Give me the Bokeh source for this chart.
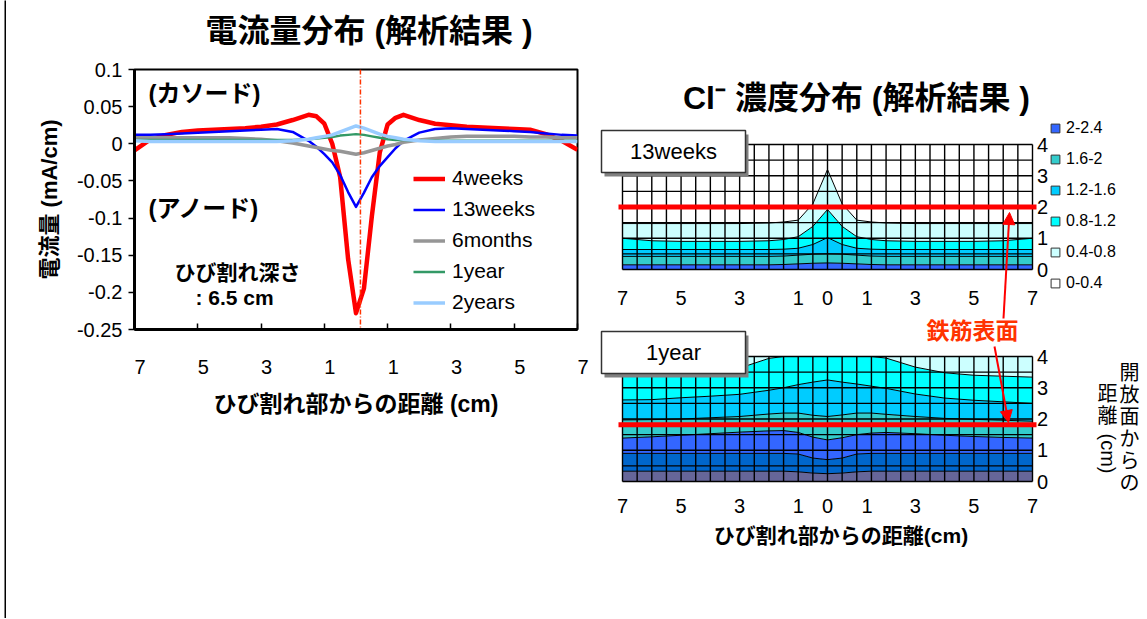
import numpy as np
from bokeh.plotting import figure
from bokeh.models import (Range1d, FixedTicker, CustomJSTickFormatter, Label, Legend,
                          LegendItem, Span, Arrow, NormalHead)
from bokeh.embed import file_html
from bokeh.resources import INLINE
from bokeh.core.properties import value

JP = "Liberation Sans, Noto Sans CJK JP"
LAT = "Liberation Sans"

# ---------------- data: current distribution (left chart) ----------------
distance_cm = [-7, -6.5, -6, -5.5, -5, -4.5, -4, -3.5, -3, -2.5, -2, -1.5,
               -1.25, -1, -0.75, -0.5, -0.25, 0, 0.25, 0.5, 0.75, 1, 1.25, 1.5,
               2, 2.5, 3, 3.5, 4, 4.5, 5, 5.5, 6, 6.5, 7]
current_4weeks = [-0.009, 0.006, 0.012, 0.016, 0.018, 0.019, 0.020, 0.021, 0.023, 0.026, 0.032, 0.039,
                  0.037, 0.027, 0.000, -0.045, -0.155, -0.228, -0.195, -0.098, -0.012, 0.026, 0.035, 0.039,
                  0.032, 0.027, 0.025, 0.023, 0.022, 0.021, 0.020, 0.019, 0.013, 0.004, -0.008]
current_13weeks = [0.012, 0.012, 0.013, 0.014, 0.015, 0.016, 0.017, 0.018, 0.019, 0.020, 0.016, 0.004,
                   -0.004, -0.014, -0.025, -0.042, -0.065, -0.085, -0.066, -0.045, -0.030, -0.018, -0.006, 0.004,
                   0.015, 0.020, 0.021, 0.020, 0.019, 0.018, 0.017, 0.016, 0.014, 0.012, 0.011]
current_6months = [0.008, 0.008, 0.008, 0.008, 0.008, 0.008, 0.008, 0.007, 0.006, 0.004, 0.001, -0.003,
                   -0.005, -0.007, -0.009, -0.010, -0.012, -0.014, -0.012, -0.009, -0.006, -0.003, -0.001, 0.002,
                   0.005, 0.007, 0.009, 0.010, 0.010, 0.010, 0.010, 0.009, 0.009, 0.008, 0.008]
current_1year = [0.005, 0.005, 0.005, 0.005, 0.005, 0.005, 0.005, 0.005, 0.005, 0.005, 0.005, 0.006,
                 0.007, 0.008, 0.009, 0.011, 0.012, 0.013, 0.012, 0.010, 0.008, 0.006, 0.005, 0.005,
                 0.004, 0.004, 0.004, 0.004, 0.004, 0.004, 0.004, 0.004, 0.004, 0.004, 0.004]
current_2years = [0.004, 0.003, 0.003, 0.003, 0.003, 0.003, 0.003, 0.003, 0.003, 0.003, 0.004, 0.006,
                  0.008, 0.010, 0.012, 0.016, 0.020, 0.024, 0.021, 0.017, 0.013, 0.010, 0.008, 0.006,
                  0.004, 0.003, 0.003, 0.003, 0.003, 0.003, 0.003, 0.003, 0.003, 0.003, 0.003]
series_names = ["4weeks", "13weeks", "6months", "1year", "2years"]
series_values = [current_4weeks, current_13weeks, current_6months, current_1year, current_2years]
series_colors = ["#FF0000", "#0000FF", "#969696", "#339966", "#99CCFF"]
series_widths = [4.5, 2.5, 3.5, 2.5, 3.5]
left_ticks = [-7, -5, -3, -1, 1, 3, 5, 7]
left_yticks = [-0.25, -0.2, -0.15, -0.1, -0.05, 0, 0.05, 0.1]
crack_position = 0.14

# ---------------- data: Cl- concentration contours (right charts) ----------------
# depth (cm from open surface) of each concentration contour along the distance from the crack
x_knots = [-7, -6, -5, -4, -3, -2, -1.5, -1, -0.5, 0, 0.5, 1, 1.5, 2, 3, 4, 5, 6, 7]
cl13w = {
    2.0: [0.15, 0.15, 0.15, 0.15, 0.15, 0.15, 0.16, 0.18, 0.20, 0.21, 0.20, 0.18, 0.16, 0.15, 0.15, 0.15, 0.15, 0.15, 0.15],
    1.6: [0.42, 0.42, 0.42, 0.42, 0.42, 0.42, 0.43, 0.46, 0.49, 0.50, 0.49, 0.46, 0.43, 0.42, 0.42, 0.42, 0.42, 0.42, 0.42],
    1.2: [0.64, 0.64, 0.64, 0.64, 0.64, 0.64, 0.65, 0.68, 0.80, 1.02, 0.80, 0.68, 0.65, 0.64, 0.64, 0.64, 0.64, 0.64, 0.64],
    0.8: [1.00, 0.92, 0.90, 0.90, 0.90, 0.92, 0.96, 1.05, 1.38, 1.92, 1.38, 1.05, 0.96, 0.92, 0.90, 0.90, 0.90, 0.92, 1.00],
    0.4: [1.47, 1.47, 1.47, 1.47, 1.47, 1.49, 1.52, 1.58, 2.10, 3.20, 2.10, 1.58, 1.52, 1.49, 1.47, 1.47, 1.47, 1.47, 1.47],
}
cl1y = {
    2.8: [0.33, 0.33, 0.33, 0.33, 0.33, 0.33, 0.33, 0.31, 0.27, 0.25, 0.27, 0.31, 0.33, 0.33, 0.33, 0.33, 0.33, 0.33, 0.33],
    2.4: [0.90, 0.90, 0.90, 0.90, 0.90, 0.90, 0.90, 0.88, 0.75, 0.70, 0.75, 0.88, 0.90, 0.90, 0.90, 0.90, 0.90, 0.90, 0.90],
    2.0: [1.39, 1.43, 1.48, 1.53, 1.58, 1.62, 1.63, 1.57, 1.42, 1.33, 1.40, 1.50, 1.55, 1.57, 1.53, 1.48, 1.44, 1.41, 1.39],
    1.6: [1.97, 1.98, 2.00, 2.04, 2.08, 2.16, 2.19, 2.19, 2.12, 2.08, 2.13, 2.19, 2.19, 2.15, 2.08, 2.02, 1.99, 1.96, 1.93],
    1.2: [2.61, 2.62, 2.68, 2.73, 2.79, 2.92, 3.00, 3.10, 3.18, 3.25, 3.18, 3.12, 3.05, 2.98, 2.80, 2.67, 2.60, 2.55, 2.50],
    0.8: [3.62, 3.62, 3.62, 3.62, 3.63, 3.94, 4.00, 4.00, 4.00, 4.00, 4.00, 4.00, 4.00, 3.95, 3.66, 3.48, 3.40, 3.37, 3.34],
}
class_labels = ["2-2.4", "1.6-2", "1.2-1.6", "0.8-1.2", "0.4-0.8", "0-0.4"]
class_colors = {0.0: "#FFFFFF", 0.4: "#CCFFFF", 0.8: "#00FFFF", 1.2: "#00CCFF",
                1.6: "#33CCCC", 2.0: "#3366FF", 2.4: "#0066CC", 2.8: "#666699"}
legend_classes = [2.0, 1.6, 1.2, 0.8, 0.4, 0.0]
rebar_depth = {"13weeks": 2.0, "1year": 1.82}
heat_tick_pos = [-7, -5, -3, -1, 0, 1.35, 3, 5, 7]
depth_ticks = [0, 1, 2, 3, 4]
DEPTH_MAX = 4

FIG_H = 618

# ======================= thin border line at the left edge =======================
bfig = figure(width=2, height=FIG_H, x_range=Range1d(0, 1), y_range=Range1d(0, 1),
              output_backend="svg", toolbar_location=None, min_border=0,
              background_fill_color="black", border_fill_color="black", outline_line_color=None)
bfig.axis.visible = False
bfig.grid.visible = False
bfig.styles = {"position": "absolute", "left": "4px", "top": "0px"}

# ======================= LEFT CHART =======================
L_X0 = 8                                        # page x of the figure
F_L, F_R, F_T, F_B = 134, 577, 69, 329          # frame in page px


def lx(px):
    return -7 + (px - F_L) * 14 / (F_R - F_L)


def ly(py):
    return 0.1 - (py - F_T) * 0.35 / (F_B - F_T)


left = figure(width=590 - L_X0, height=FIG_H, x_range=Range1d(-7, 7), y_range=Range1d(-0.25, 0.1),
              output_backend="svg", toolbar_location=None,
              min_border_left=F_L - L_X0, min_border_right=590 - F_R,
              min_border_top=F_T, min_border_bottom=FIG_H - F_B)
left.styles = {"position": "absolute", "left": f"{L_X0}px", "top": "0px"}
left.xgrid.visible = False
left.ygrid.visible = False
left.outline_line_color = "black"
left.outline_line_width = 2
left.background_fill_color = "white"

items = []
for name, vals, color, lw in zip(series_names, series_values, series_colors, series_widths):
    r = left.line(distance_cm, vals, line_color=color, line_width=lw, line_join="round")
    items.append(LegendItem(label=name, renderers=[r]))

left.add_layout(Span(location=crack_position, dimension="height", line_color="#FF3300",
                     line_dash="5 2 1 2", line_width=1.5))

xa = left.xaxis[0]
xa.ticker = FixedTicker(ticks=left_ticks)
xa.formatter = CustomJSTickFormatter(code="return '\\u00a0\\u00a0' + Math.abs(tick);")
xa.major_tick_in = 6
xa.major_tick_out = 0
xa.minor_tick_line_color = None
xa.axis_line_width = 3
xa.major_tick_line_width = 1.5
xa.major_label_standoff = 26
xa.major_label_text_font = LAT
xa.major_label_text_font_size = "20px"
xa.major_label_text_color = "black"
xa.axis_label = "ひび割れ部からの距離 (cm)"
xa.axis_label_standoff = 10
xa.axis_label_text_font = JP
xa.axis_label_text_font_size = "23px"
xa.axis_label_text_font_style = "bold"
xa.axis_label_text_color = "black"

ya = left.yaxis[0]
ya.ticker = FixedTicker(ticks=left_yticks)
ya.formatter = CustomJSTickFormatter(code="return String(Math.round(tick*100)/100);")
ya.major_tick_in = 0
ya.major_tick_out = 6
ya.minor_tick_line_color = None
ya.axis_line_width = 3
ya.major_tick_line_width = 1.5
ya.major_label_standoff = 6
ya.major_label_text_font = LAT
ya.major_label_text_font_size = "20px"
ya.major_label_text_color = "black"
ya.axis_label = "電流量 (mA/cm)"
ya.axis_label_standoff = 12
ya.axis_label_text_font = JP
ya.axis_label_text_font_size = "22px"
ya.axis_label_text_font_style = "bold"
ya.axis_label_text_color = "black"

leg = Legend(items=items, location=(279, 15), glyph_width=32, glyph_height=21, label_height=21,
             spacing=7, label_standoff=7, padding=0, margin=0, border_line_color=None,
             background_fill_alpha=0, label_text_font=LAT, label_text_font_size="21px",
             label_text_color="black")
left.add_layout(leg)

for txt, px, py, size, align in [("(カソード)", 148, 93, "24px", "left"),
                                 ("(アノード)", 148, 208, "24px", "left"),
                                 ("ひび割れ深さ", 237, 272, "21px", "center"),
                                 (": 6.5 cm", 234, 297, "21px", "center")]:
    left.add_layout(Label(x=lx(px), y=ly(py), text=txt, text_font=JP, text_font_size=size,
                          text_font_style="bold", text_align=align, text_baseline="middle",
                          text_color="black"))

# title strip of the left chart (transparent canvas laid over the top border)
T_W, T_H = 560, 62
tfig = figure(width=T_W, height=T_H, x_range=Range1d(0, T_W), y_range=Range1d(0, T_H),
              output_backend="svg", toolbar_location=None, min_border=0,
              background_fill_alpha=0, border_fill_alpha=0, outline_line_color=None)
tfig.axis.visible = False
tfig.grid.visible = False
tfig.styles = {"position": "absolute", "left": f"{L_X0}px", "top": "0px"}
tfig.add_layout(Label(x=205 - L_X0, y=T_H - 30, text="電流量分布 (解析結果 )", text_font=JP,
                      text_font_size="32px", text_font_style="bold", text_align="left",
                      text_baseline="middle", text_color="black"))

# ======================= RIGHT CHARTS =======================
R_X0 = 590                      # page x of the figure
G_L, G_R = 622, 1032            # grid x = -7 .. 7
PXU_X = (G_R - G_L) / 14
XC = (G_L + G_R) / 2
PXU_Y = 31.25
R_FL, R_FR, R_FT, R_FB = 598, 1146, 0, 492       # frame (page px)
Y0_1Y = 481                     # page y of depth 0 of the 1year panel
Y0_13W = 269                    # page y of depth 0 of the 13weeks panel
OFF13 = (Y0_1Y - Y0_13W) / PXU_Y


def rx(px):
    return (px - XC) / PXU_X


def ry(py):
    return (Y0_1Y - py) / PXU_Y


def ry13(py):
    return ry(py) - OFF13


right = figure(width=R_FR - R_X0, height=FIG_H, x_range=Range1d(rx(R_FL), rx(R_FR)),
               y_range=Range1d(ry(R_FB), ry(R_FT)), output_backend="svg", toolbar_location=None,
               min_border_left=R_FL - R_X0, min_border_right=0,
               min_border_top=R_FT, min_border_bottom=FIG_H - R_FB)
right.styles = {"position": "absolute", "left": f"{R_X0}px", "top": "0px"}
right.yaxis.visible = False
right.extra_y_ranges = {"w13": Range1d(ry13(R_FB), ry13(R_FT))}
right.xgrid.visible = False
right.ygrid.visible = False
right.outline_line_color = None

grid_x = np.arange(-7, 7.001, 0.5)
grid_y = np.arange(0, DEPTH_MAX + 0.001, 0.5)


def draw_panel(bounds, rng, rebar):
    kw = {} if rng is None else {"y_range_name": rng}
    levels = sorted(bounds.keys(), reverse=True)
    lower = [0.0] * len(x_knots)
    for L in levels:
        upper = bounds[L]
        right.varea(x=x_knots, y1=lower, y2=upper, fill_color=class_colors[L], **kw)
        lower = upper
    top_class = round(min(levels) - 0.4, 1)
    right.varea(x=x_knots, y1=lower, y2=[DEPTH_MAX] * len(x_knots),
                fill_color=class_colors[top_class], **kw)
    right.segment(x0=grid_x, y0=0, x1=grid_x, y1=DEPTH_MAX, line_color="black", line_width=1.4, **kw)
    right.segment(x0=-7, y0=grid_y, x1=7, y1=grid_y, line_color="black", line_width=1.4, **kw)
    for L in levels:
        right.line(x_knots, bounds[L], line_color="black", line_width=1, **kw)
    right.line([rx(618), rx(1036)], [rebar, rebar], line_color="#FF0000", line_width=5, **kw)
    # depth labels (right side)
    right.text(x=[rx(1036.5)] * len(depth_ticks), y=depth_ticks, text=[str(d) for d in depth_ticks],
               text_font=value(LAT), text_font_size="20px", text_align="left",
               text_baseline="middle", text_color="black", **kw)


draw_panel(cl13w, "w13", rebar_depth["13weeks"])
draw_panel(cl1y, None, rebar_depth["1year"])

# panel name boxes
for name, top, conv, rng in [("13weeks", 130, ry13, "w13"), ("1year", 331, ry, None)]:
    kw = {} if rng is None else {"y_range_name": rng}
    right.quad(left=rx(604), right=rx(748), top=conv(top + 4), bottom=conv(top + 46),
               fill_color="#808080", line_color=None, **kw)
    right.quad(left=rx(601), right=rx(745), top=conv(top), bottom=conv(top + 42),
               fill_color="white", line_color="#333333", line_width=1.5, **kw)
    right.text(x=[rx(673)], y=[conv(top + 21)], text=[name], text_font=value(LAT),
               text_font_size="22px", text_align="center", text_baseline="middle",
               text_color="black", **kw)

# x labels of the 13weeks panel
heat_tick_text = [str(int(round(abs(t)))) for t in heat_tick_pos]
right.text(x=heat_tick_pos, y=[ry13(297)] * len(heat_tick_pos), text=heat_tick_text,
           text_font=value(LAT), text_font_size="20px", text_align="center",
           text_baseline="middle", text_color="black", y_range_name="w13")

xr = right.xaxis[0]
xr.ticker = FixedTicker(ticks=heat_tick_pos)
xr.formatter = CustomJSTickFormatter(code="return String(Math.round(Math.abs(tick)));")
xr.axis_line_color = None
xr.major_tick_line_color = None
xr.minor_tick_line_color = None
xr.major_label_standoff = 0
xr.major_label_text_font = LAT
xr.major_label_text_font_size = "20px"
xr.major_label_text_color = "black"
xr.axis_label = "ひび割れ部からの距離(cm)" + "\u3000" * 3
xr.axis_label_standoff = 8
xr.axis_label_text_font = JP
xr.axis_label_text_font_size = "21px"
xr.axis_label_text_font_style = "bold"
xr.axis_label_text_color = "black"

# legend of concentration classes
litems = []
for lab, lev in zip(class_labels, legend_classes):
    r = right.scatter(x=[np.nan], y=[np.nan], marker="square", size=9, fill_color=class_colors[lev],
                      line_color="#333333", line_width=1)
    litems.append(LegendItem(label=lab, renderers=[r]))
rleg = Legend(items=litems, location=(1044 - R_FL, R_FB - 294), glyph_width=22, glyph_height=22,
              label_height=22, spacing=9, label_standoff=0, padding=0, margin=0,
              border_line_color=None, background_fill_alpha=0, label_text_font=LAT,
              label_text_font_size="16px", label_text_color="black")
right.add_layout(rleg)

# titles and annotations
right.add_layout(Label(x=rx(856), y=ry(97), text="Cl\u207b 濃度分布 (解析結果 )", text_font=JP,
                       text_font_size="32px", text_font_style="bold", text_align="center",
                       text_baseline="middle", text_color="black"))
right.add_layout(Label(x=rx(972), y=ry(330), text="鉄筋表面", text_font=JP, text_font_size="23px",
                       text_font_style="bold", text_align="center", text_baseline="middle",
                       text_color="#FF3300"))
right.add_layout(Arrow(x_start=rx(1003), y_start=ry(318), x_end=rx(1009), y_end=ry(212),
                       line_color="#FF0000", line_width=2,
                       end=NormalHead(size=12, fill_color="#FF0000", line_color="#FF0000")))
right.add_layout(Arrow(x_start=rx(994), y_start=ry(346), x_end=rx(1008), y_end=ry(422),
                       line_color="#FF0000", line_width=2,
                       end=NormalHead(size=12, fill_color="#FF0000", line_color="#FF0000")))

# vertical (tategaki) axis title
col1 = "開放面からの"
right.text(x=[rx(1129)] * len(col1), y=[ry(372 + 22 * i) for i in range(len(col1))], text=list(col1),
           text_font=value(JP), text_font_size="20px", text_align="center", text_baseline="middle",
           text_color="black")
col2 = "距離"
right.text(x=[rx(1107)] * len(col2), y=[ry(393 + 22 * i) for i in range(len(col2))], text=list(col2),
           text_font=value(JP), text_font_size="20px", text_align="center", text_baseline="middle",
           text_color="black")
right.text(x=[rx(1107)], y=[ry(453)], text=["(cm)"], text_font=value(JP), text_font_size="20px",
           text_align="center", text_baseline="middle", angle=-np.pi / 2, text_color="black")

with open("out.html", "w") as f:
    f.write(file_html([bfig, left, right, tfig], INLINE))
